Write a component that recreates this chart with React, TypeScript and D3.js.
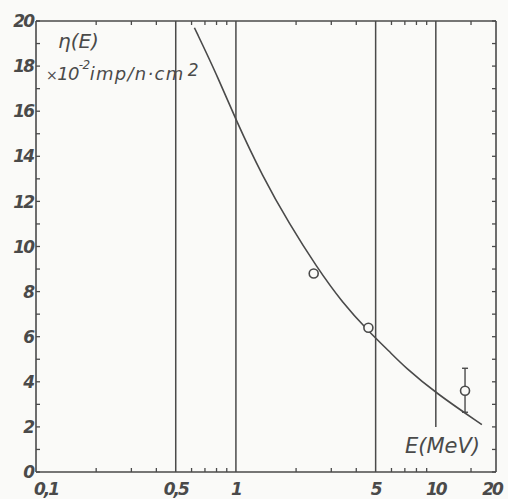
import React from "react";
import * as d3 from "d3";

const W = 508;
const H = 499;

// Data
const curveE = [0.62, 0.8, 1.0, 1.36, 1.85, 2.53, 3.41, 4.65, 5.85, 7.0, 10.0, 17.0];
const curveEta = [19.7, 17.65, 15.6, 13.1, 11.0, 9.1, 7.5, 6.2, 5.35, 4.65, 3.5, 2.1];
const pointE = [2.45, 4.6, 14.0];
const pointEta = [8.8, 6.4, 3.6];
const errLow = [null, null, 2.65];
const errHigh = [null, null, 4.6];
const xTickValues = [0.1, 0.5, 1, 5, 10, 20];
const xTickLabels = ["0,1", "0,5", "1", "5", "10", "20"];
const xMinorTicks = [0.2, 0.3, 0.4, 0.6, 0.7, 0.8, 0.9, 2, 3, 4, 6, 7, 8, 9, 15];
const yTickValues = [0, 2, 4, 6, 8, 10, 12, 14, 16, 18, 20];
const yMinorTicks = d3.range(0, 21, 1);
const vLines = [0.5, 1, 5, 10];
const vLineBottoms = [0, 0, 0, 2];

const INK = "#4a4a4a";
const BG = "#fafaf8";
const FONT = "'DejaVu Sans', sans-serif";

export default function App() {
  const x = d3.scaleLog().domain([0.1, 20]).range([36, 496]);
  const y = d3.scaleLinear().domain([0, 20]).range([472, 21]);

  const curveData = curveE.map((e, i) => [e, curveEta[i]] as [number, number]);
  const line = d3
    .line<[number, number]>()
    .x((d) => x(d[0]))
    .y((d) => y(d[1]))
    .curve(d3.curveBasis);

  const [x0, x1] = x.range();
  const [yb, yt] = y.range();

  const xLabelDx = (i: number) => (i === 0 ? 10 : i === xTickValues.length - 1 ? -4 : 0);

  return (
    <svg width={W} height={H} style={{ position: "absolute", left: 0, top: 0, background: BG }}>
      <rect x={0} y={0} width={W} height={H} fill={BG} />
      {/* frame */}
      <g stroke={INK} strokeWidth={1.6} fill="none">
        <line x1={x0} y1={yb} x2={x1} y2={yb} />
        <line x1={x0} y1={yt} x2={x1} y2={yt} />
        <line x1={x0} y1={yb} x2={x0} y2={yt} />
        <line x1={x1} y1={yb} x2={x1} y2={yt} />
      </g>
      {/* vertical reference lines */}
      <g stroke={INK} strokeWidth={1.5}>
        {vLines.map((v, i) => (
          <line key={v} x1={x(v)} x2={x(v)} y1={y(vLineBottoms[i])} y2={yt} />
        ))}
      </g>
      {/* minor x ticks top & bottom */}
      <g stroke={INK} strokeWidth={1.3}>
        {xMinorTicks.map((v) => (
          <g key={v}>
            <line x1={x(v)} x2={x(v)} y1={yb} y2={yb - 4} />
            <line x1={x(v)} x2={x(v)} y1={yt} y2={yt + 4} />
          </g>
        ))}
      </g>
      {/* y ticks left & right */}
      <g stroke={INK} strokeWidth={1.3}>
        {yMinorTicks.map((v) => (
          <g key={v}>
            <line x1={x0} x2={x0 + 4} y1={y(v)} y2={y(v)} />
            <line x1={x1} x2={x1 - 4} y1={y(v)} y2={y(v)} />
          </g>
        ))}
      </g>
      {/* y labels */}
      <g fill={INK} fontFamily={FONT} fontStyle="italic" fontWeight="bold" fontSize={17} textAnchor="end">
        {yTickValues.map((v) => (
          <text key={v} x={x0 - 3} y={y(v)} dy="0.36em" letterSpacing={-2}>
            {v}
          </text>
        ))}
      </g>
      {/* x labels */}
      <g fill={INK} fontFamily={FONT} fontStyle="italic" fontWeight="bold" fontSize={17} textAnchor="middle">
        {xTickValues.map((v, i) => (
          <text key={v} x={x(v) + xLabelDx(i)} y={495} letterSpacing={-2}>
            {xTickLabels[i]}
          </text>
        ))}
      </g>
      {/* curve */}
      <path d={line(curveData) || ""} fill="none" stroke={INK} strokeWidth={1.6} />
      {/* error bars */}
      <g stroke={INK} strokeWidth={1.4}>
        {pointE.map((e, i) =>
          errLow[i] != null ? (
            <g key={e}>
              <line x1={x(e)} x2={x(e)} y1={y(errLow[i] as number)} y2={y(errHigh[i] as number)} />
              <line x1={x(e) - 3} x2={x(e) + 3} y1={y(errLow[i] as number)} y2={y(errLow[i] as number)} />
              <line x1={x(e) - 3} x2={x(e) + 3} y1={y(errHigh[i] as number)} y2={y(errHigh[i] as number)} />
            </g>
          ) : null
        )}
      </g>
      {/* points */}
      <g stroke={INK} strokeWidth={1.6} fill={BG}>
        {pointE.map((e, i) => (
          <circle key={e} cx={x(e)} cy={y(pointEta[i])} r={4.5} />
        ))}
      </g>
      {/* axis titles */}
      <g fill={INK} fontFamily={FONT} fontStyle="italic">
        <text x={58} y={48} fontSize={20}>η(E)</text>
        <text x={46} y={80} fontSize={18} letterSpacing={-0.6}>
          <tspan fontSize={14}>×</tspan>
          <tspan>10</tspan>
          <tspan dy={-11} fontSize={12}>-2</tspan>
          <tspan dy={11} letterSpacing={1.3}>imp/n·cm</tspan>
          <tspan dy={-4} dx={3} fontSize={17}>2</tspan>
        </text>
        <text x={405} y={453} fontSize={21}>E(MeV)</text>
      </g>
    </svg>
  );
}
